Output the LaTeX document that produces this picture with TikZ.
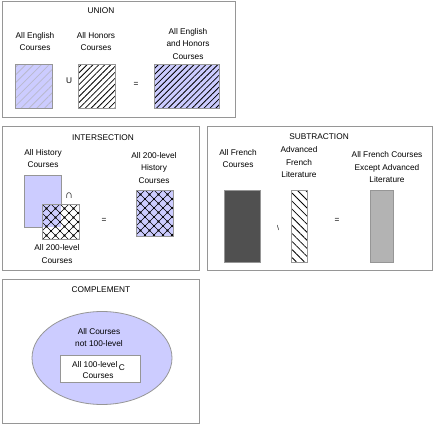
\documentclass[tikz,border=0pt]{standalone}
\usepackage{fontspec}
\setmainfont{Liberation Sans}
\usepackage{xcolor}
\definecolor{lavanda}{RGB}{204, 204, 255}
\definecolor{bordegris}{RGB}{150, 150, 150}
\definecolor{grisoscuro}{RGB}{80, 80, 80}
\definecolor{grisclaro}{RGB}{179, 179, 179}
\definecolor{rayagris}{RGB}{185, 185, 205}
\usepackage{tikz}
\usetikzlibrary{positioning, shapes.geometric, patterns, patterns.meta}
\tikzset{
  marco/.style={draw=bordegris, line width=1pt},
  conj/.style={draw=bordegris, line width=1pt, inner sep=0pt, outer sep=0pt, anchor=north west},
  txt/.style={align=center, inner sep=0pt, font=\fontsize{8.3}{12.5}\selectfont},
  rayas/.style={pattern={Lines[angle=45, distance=#1, line width=0.8pt]}},
}

\begin{document}
\begin{tikzpicture}[x=1pt, y=-1pt]
    \useasboundingbox (0,0) rectangle (444,425);
    % Marcos de los cuatro paneles
    \draw[marco] (2,2) rectangle (235,118);
    \draw[marco] (2,127) rectangle (199,270);
    \draw[marco] (207,127) rectangle (432,270);
    \draw[marco] (2,279) rectangle (199,423);

    % Union
    \node[txt] (tunion) at (101,11) {UNION};
    \node[txt] (lingles) at (35,41.5) {All English\\Courses};
    \node[txt] (lhonor) at (96,41.5) {All Honors\\Courses};
    \node[txt] (lambos) at (188,44) {All English\\and Honors\\Courses};
    \node[conj, minimum width=37, minimum height=44, preaction={fill=lavanda}, rayas=5.5pt, pattern color=rayagris] (ingles) at (15,65) {};
    \node[txt] (opunion) at (69,81) {U};
    \node[conj, minimum width=37, minimum height=44, rayas=4.2pt] (honor) at (78,65) {};
    \node[txt] (igualu) at (136,84) {=};
    \node[conj, minimum width=65, minimum height=44, preaction={fill=lavanda}, rayas=4.2pt] (ambos) at (154,65) {};

    % Interseccion
    \node[txt] (tinter) at (103,138) {INTERSECTION};
    \node[txt] (lhist) at (43,158.5) {All History\\Courses};
    \node[conj, minimum width=37, minimum height=52, fill=lavanda] (hist) at (24,175) {};
    \node[conj, minimum width=37, minimum height=35, fill=white] (dosc) at (42,204) {};
    \fill[lavanda] (dosc.north west) rectangle (hist.south east);
    \node[txt] (ldosc) at (57,254) {All 200-level\\Courses};
    \node[txt, font=\fontsize{11}{12}\selectfont] (opinter) at (69,196) {∩};
    \node[txt] (igualn) at (104,220) {=};
    \node[txt] (lhistdos) at (154,168) {All 200-level\\History\\Courses};
    \node[conj, minimum width=37, minimum height=46, fill=lavanda] (histdos) at (136,190) {};
    % Rejilla con puntos en los cruces
    \foreach \caja in {dosc, histdos} {
        \begin{scope}
            \clip (\caja.north west) rectangle (\caja.south east);
            \begin{scope}[shift={(\caja.north west)}]
                \foreach \k in {-7,...,12} {
                    \draw[line width=0.7pt] (\k*9,0) -- ++(60,60);
                    \draw[line width=0.7pt] (\k*9,0) -- ++(-60,60);
                }
                \foreach \a in {0,...,5} {
                    \foreach \b in {0,...,6} {
                        \fill (\a*9,\b*9) circle[radius=1.2pt];
                        \fill (\a*9+4.5,\b*9+4.5) circle[radius=1.2pt];
                    }
                }
            \end{scope}
        \end{scope}
        \draw[bordegris, line width=1pt] (\caja.north west) rectangle (\caja.south east);
    }

    % Resta
    \node[txt] (tresta) at (319,137) {SUBTRACTION};
    \node[txt] (lfrances) at (238,158.5) {All French\\Courses};
    \node[txt] (lavanz) at (299,162.5) {Advanced\\French\\Literature};
    \node[txt] (lresto) at (387,167.5) {All French Courses\\Except Advanced\\Literature};
    \node[conj, minimum width=36, minimum height=72, fill=grisoscuro] (frances) at (224,190) {};
    \node[txt, font=\fontsize{7}{8}\selectfont] (opresta) at (278,228) {\textbackslash};
    \node[conj, minimum width=16, minimum height=72, pattern={Lines[angle=-45, distance=5.7pt, line width=0.8pt]}] (avanz) at (291,190) {};
    \node[txt] (igualr) at (337,220) {=};
    \node[conj, minimum width=23, minimum height=72, fill=grisclaro] (resto) at (370,190) {};

    % Complemento
    \node[txt] (tcompl) at (101,290) {COMPLEMENT};
    \node[ellipse, draw=bordegris, line width=0.8pt, fill=lavanda, minimum width=140, minimum height=93, inner sep=0pt] (todos) at (102,358) {};
    \node[txt] (ltodos) at (99,337.5) {All Courses\\not 100-level};
    \node[conj, minimum width=80, minimum height=27, fill=white] (cien) at (60,355) {};
    \node[txt, anchor=west] (lcien) at (72,365) {All 100-level};
    \node[txt, right=1pt of lcien, yshift=-2.5pt] (supc) {C};
    \node[txt] (lcurso) at (98,376) {Courses};
\end{tikzpicture}
\end{document}
